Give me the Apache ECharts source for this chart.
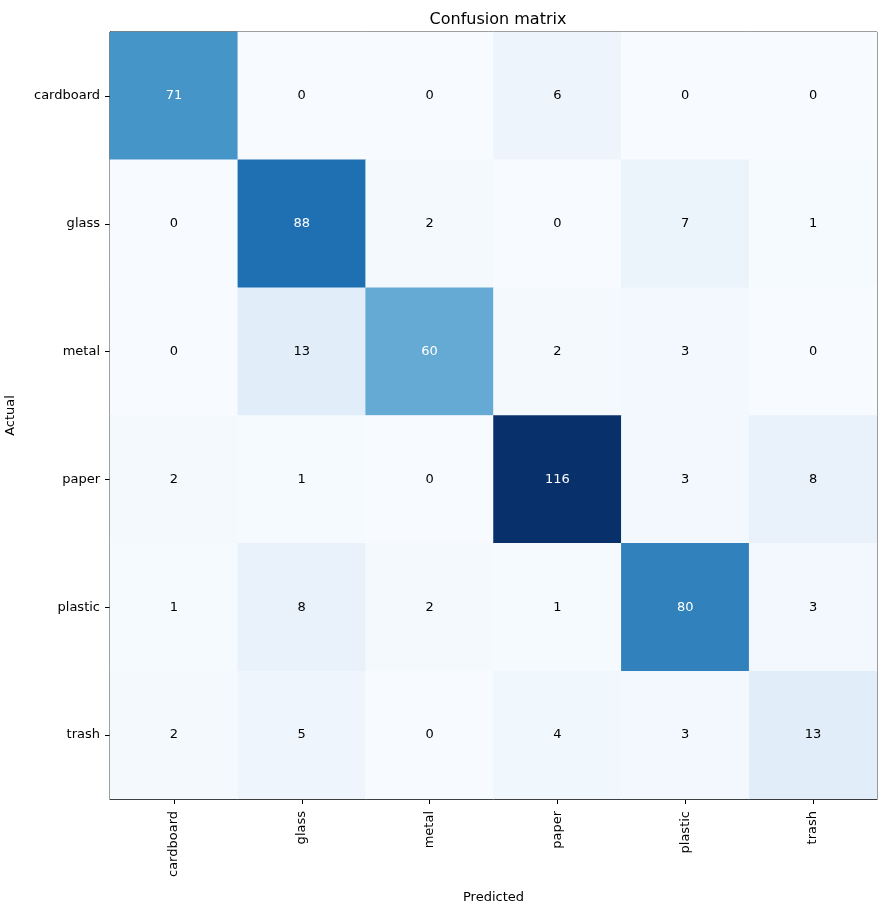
<!DOCTYPE html>
<html>
<head>
<meta charset="utf-8">
<script src="https://cdn.jsdelivr.net/npm/echarts@6/dist/echarts.min.js"></script>
<style>
html,body{margin:0;padding:0;background:#fff;}
#chart{width:887px;height:909px;}
</style>
</head>
<body>
<div id="chart"></div>
<script>
const categories = ['cardboard', 'glass', 'metal', 'paper', 'plastic', 'trash'];
// rows = actual, columns = predicted
const rowCardboard = [71, 0, 0, 6, 0, 0];
const rowGlass     = [0, 88, 2, 0, 7, 1];
const rowMetal     = [0, 13, 60, 2, 3, 0];
const rowPaper     = [2, 1, 0, 116, 3, 8];
const rowPlastic   = [1, 8, 2, 1, 80, 3];
const rowTrash     = [2, 5, 0, 4, 3, 13];
const matrix = [rowCardboard, rowGlass, rowMetal, rowPaper, rowPlastic, rowTrash];

const blues = ['#f7fbff', '#deebf7', '#c6dbef', '#9ecae1', '#6baed6', '#4292c6', '#2171b5', '#08519c', '#08306b'];

let maxV = 0;
matrix.forEach(r => r.forEach(v => { if (v > maxV) maxV = v; }));
const thresh = maxV / 2;

const data = [];
matrix.forEach((row, i) => {
  row.forEach((v, j) => {
    data.push({
      value: [j, i, v],
      label: { color: v > thresh ? '#ffffff' : '#000000' }
    });
  });
});

const font = 'DejaVu Sans';
const chart = echarts.init(document.getElementById('chart'), null, { renderer: 'canvas' });
chart.setOption({
  animation: false,
  backgroundColor: '#ffffff',
  title: {
    text: 'Confusion matrix',
    left: 493,
    top: 7,
    textAlign: 'center',
    textStyle: { fontFamily: font, fontSize: 16, fontWeight: 'normal', color: '#000' }
  },
  grid: {
    left: 110, top: 32, width: 767, height: 767,
    containLabel: false,
    outerBoundsMode: 'none',
    show: true, borderColor: '#000', borderWidth: 1, backgroundColor: 'transparent'
  },
  xAxis: {
    type: 'category',
    data: categories,
    name: 'Predicted',
    nameLocation: 'middle',
    nameGap: 92,
    nameTextStyle: { fontFamily: font, fontSize: 13, color: '#000' },
    axisLine: { show: true, lineStyle: { color: '#000', width: 1 } },
    axisTick: { show: true, alignWithLabel: true, length: 5, lineStyle: { color: '#000' } },
    axisLabel: { rotate: 90, fontFamily: font, fontSize: 13, color: '#000', margin: 12 },
    splitLine: { show: false }
  },
  yAxis: {
    type: 'category',
    data: categories,
    inverse: true,
    name: 'Actual',
    nameLocation: 'middle',
    nameGap: 93,
    nameTextStyle: { fontFamily: font, fontSize: 13, color: '#000' },
    axisLine: { show: true, lineStyle: { color: '#000', width: 1 } },
    axisTick: { show: true, alignWithLabel: true, length: 5, lineStyle: { color: '#000' } },
    axisLabel: { fontFamily: font, fontSize: 13, color: '#000', margin: 10 },
    splitLine: { show: false }
  },
  visualMap: {
    show: false,
    min: 0,
    max: maxV,
    dimension: 2,
    inRange: { color: blues }
  },
  series: [{
    type: 'heatmap',
    data: data,
    label: { show: true, fontFamily: font, fontSize: 13 },
    itemStyle: { borderWidth: 0 },
    emphasis: { disabled: true }
  }]
});
</script>
</body>
</html>
